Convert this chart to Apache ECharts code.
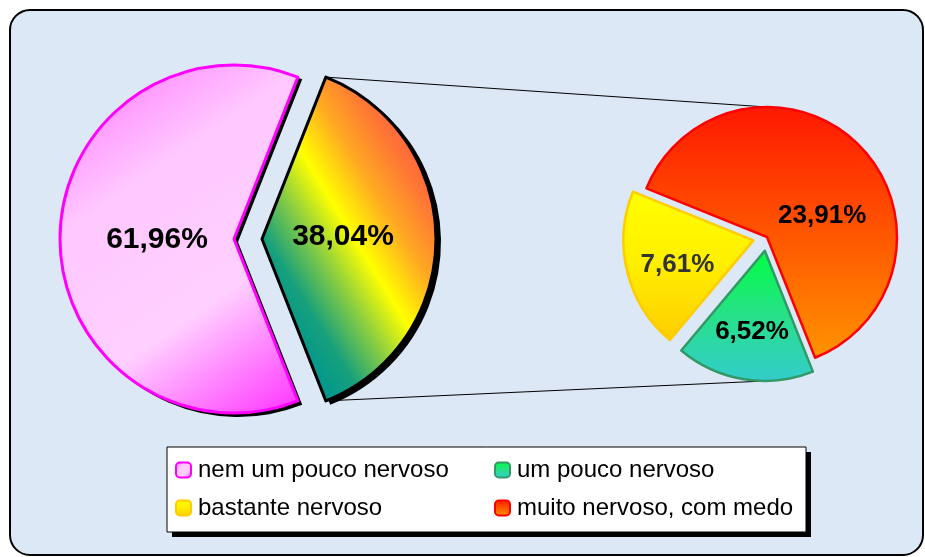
<!DOCTYPE html>
<html>
<head>
<meta charset="utf-8">
<script src="https://cdn.jsdelivr.net/npm/echarts@6/dist/echarts.min.js"></script>
<style>
  html, body { margin: 0; padding: 0; background: #fff; }
  #chart { width: 925px; height: 557px; }
</style>
</head>
<body>
<div id="chart"></div>
<script>
// dados
var mainNames = ['outros', 'nem um pouco nervoso'];
var mainValues = [38.04, 61.96];
var subNames = ['muito nervoso, com medo', 'um pouco nervoso', 'bastante nervoso'];
var subValues = [23.91, 6.52, 7.61];

// geometria
var leftC = [234, 239], leftR = 174, leftOffset = 28;
var rightC = [767, 237], rightR = 130, rightOffset = 14;
var mainStart = mainValues[0] / 100 * 360 / 2; // fatia "outros" centrada à direita
var subStart = 158;

function fmt(v) { return v.toFixed(2).replace('.', ',') + '%'; }
function lg(x, y, x2, y2, stops) {
  var n = stops.length;
  return new echarts.graphic.LinearGradient(x, y, x2, y2, stops.map(function (s, i) {
    return typeof s === 'string' ? { offset: i / (n - 1), color: s } : { offset: s[0], color: s[1] };
  }));
}

var myChart = echarts.init(document.getElementById('chart'));

// linhas de ligação entre as duas pizzas
var a = mainStart * Math.PI / 180;
var cx = leftC[0] + leftOffset;
var topA = [cx + leftR * Math.cos(a), leftC[1] - leftR * Math.sin(a)];
var botA = [cx + leftR * Math.cos(a), leftC[1] + leftR * Math.sin(a)];
var topB = [rightC[0], rightC[1] - rightR];
var botB = [rightC[0] - 2, rightC[1] + rightR + rightOffset];

var labelFont = { fontFamily: 'Liberation Sans, Arial, sans-serif', fontWeight: 'bold', color: '#000' };
var legendText = { fontSize: 24, fontFamily: 'Liberation Sans, Arial, sans-serif', color: '#000', padding: [0, 0, 0, 2] };

var option = {
  animation: false,
  graphic: [
    { type: 'rect', z: 0, shape: { x: 10, y: 10, width: 913, height: 545, r: 20 },
      style: { fill: '#dde8f6', stroke: '#000', lineWidth: 2 } },
    { type: 'line', z: 1, shape: { x1: topA[0], y1: topA[1], x2: topB[0], y2: topB[1] },
      style: { stroke: '#000', lineWidth: 1 } },
    { type: 'line', z: 1, shape: { x1: botA[0], y1: botA[1], x2: botB[0], y2: botB[1] },
      style: { stroke: '#000', lineWidth: 1 } },
    { type: 'rect', z: 1, shape: { x: 172, y: 452, width: 639, height: 85 }, style: { fill: '#000' } },
    { type: 'rect', z: 1, shape: { x: 167, y: 447, width: 639, height: 85 },
      style: { fill: '#fff', stroke: '#000', lineWidth: 1 } }
  ],
  legend: [
    { left: 175, top: 458, padding: 0, orient: 'vertical', itemGap: 14, itemWidth: 15, itemHeight: 15, icon: 'roundRect', z: 10,
      data: ['nem um pouco nervoso', 'bastante nervoso'], textStyle: legendText },
    { left: 494, top: 458, padding: 0, orient: 'vertical', itemGap: 14, itemWidth: 15, itemHeight: 15, icon: 'roundRect', z: 10,
      data: ['um pouco nervoso', 'muito nervoso, com medo'], textStyle: legendText }
  ],
  series: [
    {
      // sombra da pizza principal
      type: 'pie', z: 2, silent: true,
      center: [leftC[0] + 4, leftC[1] + 3], radius: leftR + 1,
      startAngle: mainStart, clockwise: true,
      selectedMode: 'single', selectedOffset: leftOffset,
      label: { show: false }, labelLine: { show: false },
      emphasis: { disabled: true },
      itemStyle: { color: '#000' },
      data: [
        { name: 's1', value: mainValues[0], selected: true },
        { name: 's2', value: mainValues[1] }
      ]
    },
    {
      type: 'pie', z: 3,
      center: leftC, radius: leftR,
      startAngle: mainStart, clockwise: true,
      selectedMode: 'single', selectedOffset: leftOffset,
      avoidLabelOverlap: false, labelLine: { show: false },
      emphasis: { disabled: true },
      label: Object.assign({ show: true, position: 'inside', fontSize: 30,
        formatter: function (p) { return fmt(p.value); } }, labelFont),
      data: [
        { name: mainNames[0], value: mainValues[0], selected: true,
          label: { offset: [-9, -2] }, select: { label: { offset: [-9, -2] } },
          itemStyle: { color: lg(0.374, 1, 1.45, 0.642, [[0, '#00978f'], [0.15, '#16a07c'], [0.32, '#86cc44'], [0.49, '#ffff00'], [0.68, '#ffa822'], [0.84, '#ff7834'], [1, '#ff5540']]),
            borderColor: '#000', borderWidth: 3 } },
        { name: mainNames[1], value: mainValues[1],
          label: { offset: [13, 1] },
          itemStyle: { color: lg(0, 0, 1, 1, ['#ff70ff', '#ffc8ff', '#ffd0ff', '#ff30ff']),
            borderColor: '#ff00ff', borderWidth: 3 } }
      ]
    },
    {
      type: 'pie', z: 3,
      center: rightC, radius: rightR,
      startAngle: subStart, clockwise: true,
      selectedMode: 'multiple', selectedOffset: rightOffset,
      avoidLabelOverlap: false, labelLine: { show: false },
      emphasis: { disabled: true },
      label: Object.assign({ show: true, position: 'inside', fontSize: 26,
        formatter: function (p) { return fmt(p.value); } }, labelFont),
      data: [
        { name: subNames[0], value: subValues[0],
          label: { offset: [7, 27] },
          itemStyle: { color: lg(0, 0, 0, 1, ['#ff1800', '#ff5500', '#ff9400']),
            borderColor: '#ff0000', borderWidth: 2.5 } },
        { name: subNames[1], value: subValues[1], selected: true,
          label: { offset: [-2, 14] }, select: { label: { offset: [-2, 14] } },
          itemStyle: { color: lg(0, 0, 0, 1, ['#00ff40', '#28e08a', '#33cccc']),
            borderColor: '#339966', borderWidth: 2.5 } },
        { name: subNames[2], value: subValues[2], selected: true,
          label: { offset: [-10, 8], color: '#333' }, select: { label: { offset: [-10, 8], color: '#333' } },
          itemStyle: { color: lg(0, 0, 0, 1, ['#ffff00', '#ffee00', '#ffcc00']),
            borderColor: '#ffcc00', borderWidth: 2.5 } }
      ]
    }
  ]
};

myChart.setOption(option);
</script>
</body>
</html>
